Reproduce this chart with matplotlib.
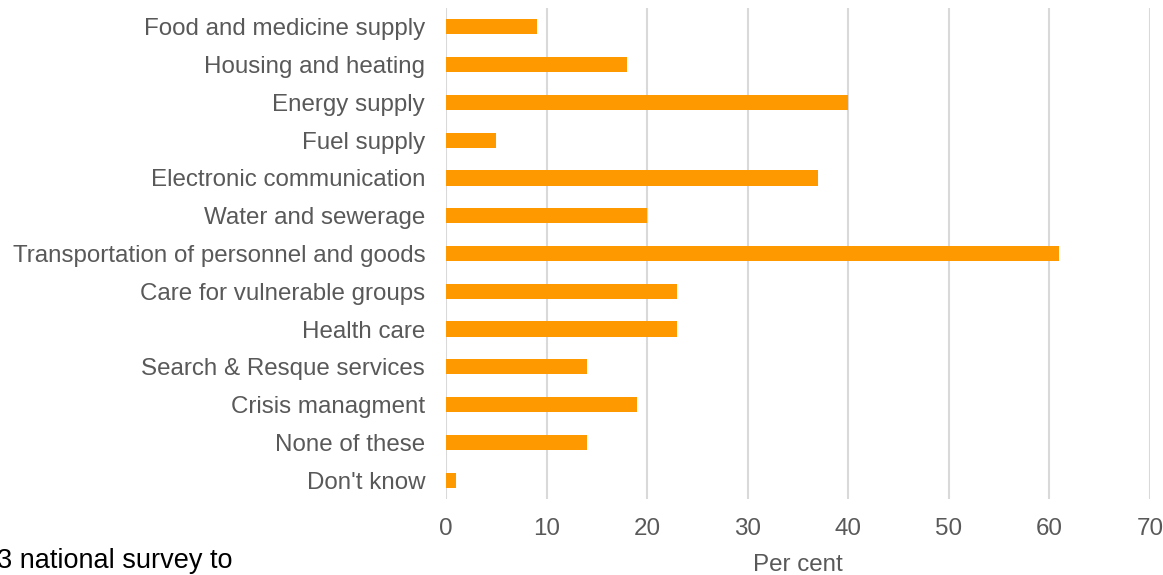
import matplotlib.pyplot as plt

categories = [
    "Food and medicine supply",
    "Housing and heating",
    "Energy supply",
    "Fuel supply",
    "Electronic communication",
    "Water and sewerage",
    "Transportation of personnel and goods",
    "Care for vulnerable groups",
    "Health care",
    "Search & Resque services",
    "Crisis managment",
    "None of these",
    "Don't know",
]
values = [9, 18, 40, 5, 37, 20, 61, 23, 23, 14, 19, 14, 1]
xticks = [0, 10, 20, 30, 40, 50, 60, 70]

plt.rcParams['font.family'] = ['Liberation Sans', 'DejaVu Sans']

fig = plt.figure(figsize=(11.63, 5.75), dpi=100)
ax = fig.add_axes([446 / 1163, 1 - 499 / 575, 704 / 1163, 491 / 575])

pos = list(range(len(categories)))
ax.barh(pos, values, height=0.4, color="#FF9900", zorder=3)
ax.set_yticks(pos)
ax.set_yticklabels(categories)
ax.set_ylim(len(categories) - 0.5, -0.5)
ax.set_xlim(0, 70)
ax.set_xticks(xticks)
ax.grid(axis="x", color="#D9D9D9", linewidth=1.5, zorder=0)
ax.set_axisbelow(True)
for s in ax.spines.values():
    s.set_visible(False)
ax.tick_params(axis="both", length=0, labelsize=17.4, labelcolor="#595959")
ax.tick_params(axis="y", pad=15)
ax.tick_params(axis="x", pad=14)
ax.set_xlabel("Per cent", fontsize=17.4, color="#595959", labelpad=10)

fig.text(-3 / 1163, 1 - 561 / 575, "3 national survey to", fontsize=19.5,
         color="black", ha="left", va="center")

fig.savefig("out.png", dpi=100)
